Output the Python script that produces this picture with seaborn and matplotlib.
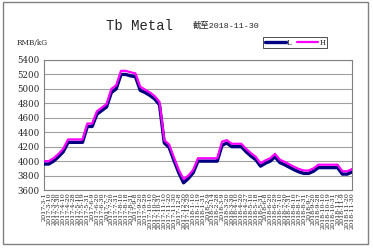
import matplotlib
matplotlib.use("Agg")
import matplotlib.pyplot as plt
import seaborn as sns
import pandas as pd
from matplotlib.patches import Rectangle

dates = [
    "2017-3-1", "2017-3-10", "2017-3-20", "2017-3-30",
    "2017-4-10", "2017-4-20", "2017-4-28",
    "2017-5-10", "2017-5-19", "2017-5-31",
    "2017-6-9", "2017-6-20", "2017-6-30",
    "2017-7-7", "2017-7-20", "2017-7-31",
    "2017-8-10", "2017-8-18", "2017-8-31",
    "2017-9-8", "2017-9-20", "2017-9-29",
    "2017-10-10", "2017-10-20", "2017-10-31",
    "2017-11-10", "2017-11-20", "2017-11-30",
    "2017-12-8", "2017-12-20", "2017-12-29",
    "2018-1-10", "2018-1-19", "2018-1-31",
    "2018-2-9", "2018-2-14", "2018-2-28",
    "2018-3-9", "2018-3-20", "2018-3-30",
    "2018-4-10", "2018-4-20", "2018-4-27",
    "2018-5-10", "2018-5-18", "2018-5-31",
    "2018-6-8", "2018-6-20", "2018-6-29",
    "2018-7-10", "2018-7-20", "2018-7-31",
    "2018-8-10", "2018-8-17", "2018-8-31",
    "2018-9-7", "2018-9-20", "2018-9-28",
    "2018-10-10", "2018-10-19", "2018-10-31",
    "2018-11-2", "2018-11-9", "2018-11-20", "2018-11-30",
]

high = [4000, 4000, 4040, 4100, 4170, 4300, 4300, 4300, 4300, 4520,
        4520, 4690, 4740, 4790, 5000, 5050, 5250, 5250, 5230, 5215,
        5030, 4990, 4950, 4900, 4820, 4290, 4230, 4050, 3880, 3750,
        3800, 3880, 4040, 4040, 4040, 4040, 4040, 4270, 4290, 4240,
        4240, 4240, 4170, 4110, 4060, 3970, 4010, 4040, 4100, 4020,
        3990, 3955, 3920, 3890, 3870, 3870, 3900, 3950, 3950, 3950,
        3950, 3950, 3860, 3860, 3890]

low = [3960, 3960, 4000, 4060, 4130, 4260, 4260, 4260, 4260, 4480,
       4480, 4650, 4700, 4750, 4950, 5000, 5200, 5200, 5180, 5170,
       4980, 4950, 4910, 4860, 4780, 4250, 4190, 4010, 3840, 3700,
       3760, 3840, 4000, 4000, 4000, 4000, 4000, 4220, 4250, 4200,
       4200, 4200, 4130, 4070, 4020, 3930, 3970, 4000, 4060, 3980,
       3950, 3915, 3880, 3850, 3830, 3830, 3860, 3910, 3910, 3910,
       3910, 3910, 3820, 3820, 3850]

colors = {"L": "#000080", "H": "#FF00FF"}

idx = list(range(len(dates)))
df = pd.DataFrame({
    "idx": idx * 2,
    "price": low + high,
    "series": ["L"] * len(low) + ["H"] * len(high),
})

sns.set_style("white")
plt.rcParams["font.family"] = ["DejaVu Serif", "Noto Sans CJK SC"]

fig = plt.figure(figsize=(3.73, 2.49), dpi=100)
ax = fig.add_axes([44 / 373, 1 - 190 / 249, 308 / 373, 130 / 249])

sns.lineplot(data=df[df.series == "L"], x="idx", y="price", color=colors["L"],
             linewidth=2.4, ax=ax, label="L", zorder=3)
sns.lineplot(data=df[df.series == "H"], x="idx", y="price", color=colors["H"],
             linewidth=1.6, ax=ax, label="H", zorder=4)

ax.set_xlim(0, len(dates) - 1)
ax.set_ylim(3600, 5400)
ax.set_yticks(range(3600, 5401, 200))
ax.set_yticklabels([str(v) for v in range(3600, 5401, 200)], fontsize=6.2)
ax.set_xticks(idx)
ax.set_xticklabels(dates, rotation=90, fontsize=4.6)
ax.set_xlabel("")
ax.set_ylabel("")
ax.grid(axis="y", color="#A0A0A0", linewidth=0.8)
ax.grid(axis="x", visible=False)
for s in ax.spines.values():
    s.set_color("#808080")
    s.set_linewidth(0.8)
ax.tick_params(axis="x", direction="in", length=2.5, width=0.6, color="#606060", pad=1.5)
ax.tick_params(axis="y", length=0, pad=3)

leg = ax.legend(loc="upper left", bbox_to_anchor=(263 / 373, 1 - 37 / 249),
                bbox_transform=fig.transFigure, ncol=2, fontsize=5,
                frameon=True, fancybox=False, handlelength=3.0,
                handletextpad=0.2, columnspacing=0.8, borderpad=0.25,
                borderaxespad=0)
leg.get_frame().set_edgecolor("black")
leg.get_frame().set_linewidth(0.6)

fig.text(139 / 373, 1 - 26 / 249, "Tb Metal", family=["Liberation Mono"],
         fontsize=10, ha="center", va="center")
fig.text(193 / 373, 1 - 26 / 249, "截至2018-11-30",
         family=["Liberation Mono", "Noto Sans CJK SC"], fontsize=6,
         ha="left", va="center")
fig.text(17 / 373, 1 - 43 / 249, "RMB/kG", fontsize=5.2, ha="left", va="center")

fig.patches.append(Rectangle((3 / 373, 1 - 244 / 249), 365 / 373, 242 / 249,
                             transform=fig.transFigure, fill=False,
                             edgecolor="#808080", linewidth=1.0))

fig.savefig("out.png", dpi=100)
